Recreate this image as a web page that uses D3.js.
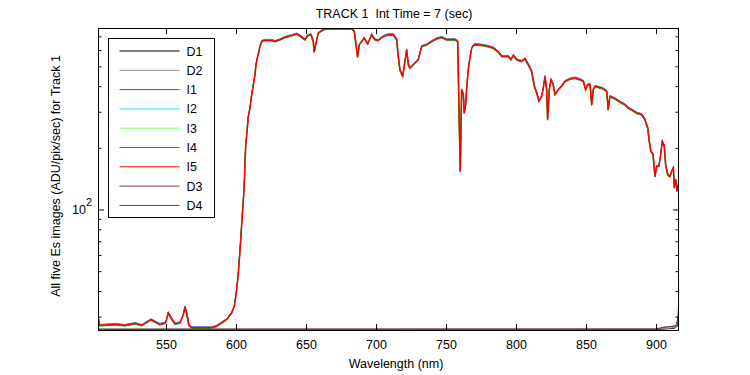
<!DOCTYPE html>
<html>
<head>
<meta charset="utf-8">
<script src="https://cdn.jsdelivr.net/npm/d3@7"></script>
<style>
body { margin: 0; background: #fff; }
text { font-family: "Liberation Sans", Arial, Helvetica, sans-serif; }
</style>
</head>
<body>
<svg id="chart"></svg>
<script>
// I-series spectrum [wavelength nm, ADU/pix/sec] (I1..I5 overlap)
var iSpectrum = [
  [501.8, 29.3], [502.6, 27.2], [513.6, 27.5], [520.7, 27.2], [527.9, 27.8], [532.6, 27.2],
  [539.3, 29.0], [545.7, 27.5], [549.8, 28.0], [551.6, 31.3], [553.6, 29.6], [556.4, 27.7],
  [560.0, 28.0], [562.4, 30.7], [563.6, 33.5], [565.0, 30.7], [566.4, 27.2], [568.4, 26.5],
  [582.6, 26.5], [586.2, 27.0], [589.8, 28.0], [593.4, 29.1], [596.9, 31.3], [598.8, 33.8],
  [600.5, 40.7], [601.6, 48.2], [602.9, 63.8], [604.3, 89.4], [605.5, 118], [605.9, 132],
  [606.9, 204], [607.9, 241], [608.8, 285], [610.0, 313], [611.2, 364], [612.4, 407],
  [613.6, 456], [614.3, 510], [615.2, 550], [616.4, 592], [617.1, 626], [618.4, 662],
  [620.2, 670], [625.5, 670], [627.9, 662], [631.4, 675], [635.0, 693], [639.8, 708],
  [643.4, 720], [646.4, 700], [649.3, 675], [651.2, 708], [653.6, 714], [655.2, 662],
  [655.9, 588], [656.9, 638], [658.8, 728], [662.4, 755], [664.8, 764], [682.6, 764],
  [684.5, 741], [686.2, 603], [686.9, 556], [688.1, 638], [689.8, 662], [691.6, 688],
  [694.1, 643], [696.9, 714], [699.3, 675], [701.6, 670], [705.2, 700], [708.8, 714],
  [712.4, 714], [714.8, 675], [715.9, 560], [717.1, 482], [719.1, 447], [720.7, 529],
  [721.9, 603], [723.1, 510], [724.3, 491], [727.9, 520], [730.2, 539], [732.6, 626],
  [736.2, 638], [739.8, 662], [743.4, 683], [746.9, 693], [750.5, 675], [754.1, 675],
  [756.4, 675], [758.4, 662], [758.8, 470], [759.5, 260], [760.2, 154], [761.2, 385],
  [762.4, 364], [763.1, 296], [764.1, 325], [764.8, 392], [765.9, 482], [767.1, 550],
  [768.4, 615], [770.2, 638], [773.1, 638], [776.6, 633], [780.2, 626], [783.8, 615],
  [787.4, 588], [789.8, 560], [792.1, 560], [794.5, 560], [796.4, 539], [798.1, 566],
  [800.5, 539], [804.1, 529], [806.4, 545], [808.8, 510], [811.2, 473], [813.1, 400],
  [814.8, 371], [816.4, 338], [818.4, 357], [819.5, 392], [820.7, 447], [821.9, 385],
  [822.6, 275], [823.8, 385], [825.0, 431], [826.6, 407], [827.9, 364], [830.2, 385],
  [832.6, 400], [835.0, 423], [838.6, 434], [842.1, 439], [845.7, 431], [848.1, 423],
  [849.8, 385], [851.2, 407], [852.9, 407], [854.1, 325], [855.2, 385], [856.4, 400],
  [859.3, 395], [862.4, 389], [864.8, 378], [865.9, 307], [867.1, 357], [870.7, 348],
  [874.3, 335], [877.9, 325], [880.2, 313], [882.6, 307], [886.2, 296], [889.8, 291],
  [892.1, 275], [894.1, 250], [895.2, 215], [896.4, 192], [897.9, 186], [899.3, 145],
  [900.5, 163], [902.1, 163], [903.4, 186], [904.5, 215], [905.9, 204], [906.9, 166],
  [908.4, 148], [910.0, 145], [911.2, 154], [912.4, 160], [913.1, 128], [914.1, 140],
  [915.0, 123], [915.9, 132], [916.4, 118]
]

// dark frames, sitting on the bottom of the axes
var dark1 = [[501.8, 25.9], [900.0, 25.9], [913.0, 26.3], [915.5, 27.0], [916.1, 31.9], [916.4, 29.0]]
var dark2 = [[501.8, 26.1], [905.0, 26.1], [914.0, 26.6], [916.4, 28.0]]
var dark3 = [[501.8, 26.0], [899.0, 26.0], [905.0, 26.6], [912.0, 26.9], [915.5, 27.2], [915.9, 33.0], [916.4, 34.4]]
var dark4 = [[501.8, 26.0], [900.0, 26.1], [908.0, 26.7], [914.0, 27.0], [916.0, 30.0], [916.4, 32.0]]

var seriesNames = ["D1", "D2", "I1", "I2", "I3", "I4", "I5", "D3", "D4"]
var seriesData = [dark1, dark2, iSpectrum, iSpectrum, iSpectrum, iSpectrum, iSpectrum, dark3, dark4]
var seriesColors = ["#000000", "#8c8c8c", "#0066ee", "#33dddd", "#77ff77", "#00aa00", "#ff0000", "#7f4040", "#6e3a3a"]

var xTicks = [550, 600, 650, 700, 750, 800, 850, 900]
var yMajor = [100]
var yMinor = [30, 40, 50, 60, 70, 80, 90, 200, 300, 400, 500, 600, 700]

var dimensions = {
  width: 750,
  height: 375,
  margin: { top: 28, bottom: 45, right: 71, left: 98 }
}
var plotLeft = dimensions.margin.left
var plotRight = dimensions.width - dimensions.margin.right
var plotTop = dimensions.margin.top
var plotBottom = dimensions.height - dimensions.margin.bottom

var svg = d3.select("#chart")
  .attr("width", dimensions.width)
  .attr("height", dimensions.height)

var xScale = d3.scaleLinear().domain([501.4, 916.4]).range([plotLeft, plotRight])
var yScale = d3.scaleLog().domain([25.8, 769]).range([plotBottom, plotTop])

svg.append("defs").append("clipPath").attr("id", "plotclip")
  .append("rect")
  .attr("x", plotLeft).attr("y", plotTop)
  .attr("width", plotRight - plotLeft).attr("height", plotBottom - plotTop)

var line = d3.line()
  .x(d => xScale(d[0]))
  .y(d => yScale(d[1]))

// small pixel shifts so the overlapping I traces peek out from under the red one
var shifts = [[0, 0], [0, 0], [0, -0.8], [0, -0.4], [0, 0.6], [-0.3, 0.8], [0, 0], [0, 0], [0, 0]]

var plot = svg.append("g").attr("clip-path", "url(#plotclip)")
seriesData.forEach((data, i) => {
  plot.append("path")
    .datum(data)
    .attr("d", line)
    .attr("transform", `translate(${shifts[i][0]},${shifts[i][1]})`)
    .style("fill", "none")
    .style("stroke", seriesColors[i])
    .style("stroke-width", seriesNames[i] == "I5" ? 1.5 : 1)
})

// axes, ticks inward on all four sides
function styleAxis(g) {
  g.select(".domain").remove()
  g.selectAll("line").attr("stroke", "#000")
  g.selectAll("text").style("font-size", "12.5px").attr("fill", "#000")
}

svg.append("g")
  .attr("transform", `translate(0,${plotBottom})`)
  .call(d3.axisBottom(xScale).tickValues(xTicks).tickSizeInner(-6).tickSizeOuter(0).tickFormat(d3.format("d")))
  .call(styleAxis)
  .call(g => g.selectAll("text").attr("y", 10).attr("dy", "0.71em"))

svg.append("g")
  .attr("transform", `translate(0,${plotTop})`)
  .call(d3.axisTop(xScale).tickValues(xTicks).tickSizeInner(-6).tickSizeOuter(0).tickFormat(""))
  .call(styleAxis)

svg.append("g")
  .attr("transform", `translate(${plotLeft},0)`)
  .call(d3.axisLeft(yScale).tickValues(yMajor).tickSizeInner(-6).tickSizeOuter(0).tickFormat(""))
  .call(styleAxis)
svg.append("g")
  .attr("transform", `translate(${plotLeft},0)`)
  .call(d3.axisLeft(yScale).tickValues(yMinor).tickSizeInner(-3.5).tickSizeOuter(0).tickFormat(""))
  .call(styleAxis)
svg.append("g")
  .attr("transform", `translate(${plotRight},0)`)
  .call(d3.axisRight(yScale).tickValues(yMajor).tickSizeInner(-6).tickSizeOuter(0).tickFormat(""))
  .call(styleAxis)
svg.append("g")
  .attr("transform", `translate(${plotRight},0)`)
  .call(d3.axisRight(yScale).tickValues(yMinor).tickSizeInner(-3.5).tickSizeOuter(0).tickFormat(""))
  .call(styleAxis)

// 10^2 label
var yLab = svg.append("text")
  .attr("x", plotLeft - 26)
  .attr("y", yScale(100) + 5)
  .style("font-size", "12.5px")
yLab.append("tspan").text("10")
yLab.append("tspan").attr("dy", -8).style("font-size", "11px").text("2")

svg.append("rect")
  .attr("x", plotLeft + 0.5).attr("y", plotTop + 0.5)
  .attr("width", plotRight - plotLeft - 1).attr("height", plotBottom - plotTop)
  .style("fill", "none").style("stroke", "#000").style("stroke-width", 1)

// titles
svg.append("text")
  .attr("x", 394).attr("y", 18)
  .attr("text-anchor", "middle")
  .style("font-size", "12.5px")
  .style("white-space", "pre")
  .text("TRACK 1  Int Time = 7 (sec)")

svg.append("text")
  .attr("x", 396).attr("y", 368)
  .attr("text-anchor", "middle")
  .style("font-size", "12.5px")
  .text("Wavelength (nm)")

svg.append("text")
  .attr("transform", `translate(60,176) rotate(-90)`)
  .attr("text-anchor", "middle")
  .style("font-size", "12.5px")
  .text("All five Es images (ADU/pix/sec) for Track 1")

// legend
var legend = svg.append("g").attr("transform", "translate(108.5,38.5)")
legend.append("rect")
  .attr("width", 106).attr("height", 179)
  .style("fill", "#fff").style("stroke", "#000").style("stroke-width", 1)
seriesNames.forEach((name, i) => {
  var yy = 12.5 + i * 19.3
  legend.append("line")
    .attr("x1", 11).attr("x2", 71).attr("y1", yy).attr("y2", yy)
    .style("stroke", seriesColors[i]).style("stroke-width", 1)
  legend.append("text")
    .attr("x", 78).attr("y", yy + 4.5)
    .style("font-size", "12.5px")
    .text(name)
})
</script>
</body>
</html>
